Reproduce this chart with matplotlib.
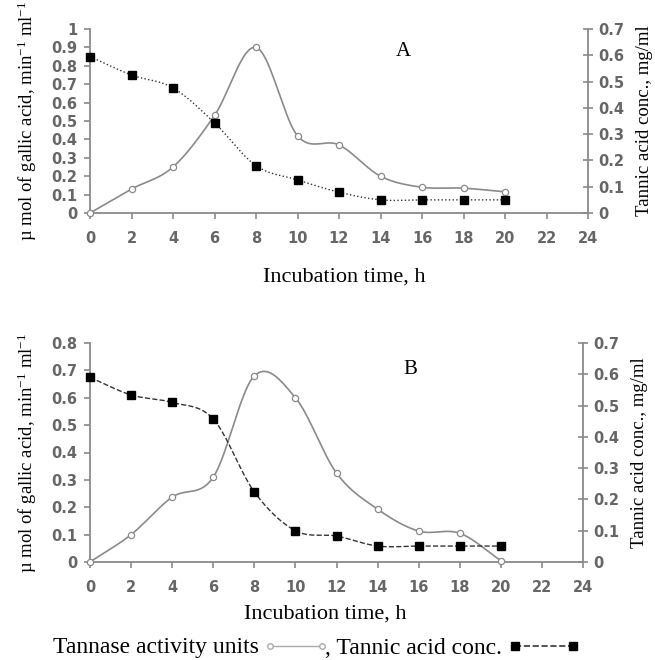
import numpy as np
import matplotlib
matplotlib.use("Agg")
import matplotlib.pyplot as plt
from matplotlib.lines import Line2D

plt.rcParams['mathtext.fontset'] = 'custom'
plt.rcParams['mathtext.rm'] = 'Liberation Serif'
plt.rcParams['mathtext.it'] = 'Liberation Serif:italic'

# incubation time, h
hours = [0, 2, 4, 6, 8, 10, 12, 14, 16, 18, 20]

# panel A
tannase_a = [0.0, 0.13, 0.25, 0.53, 0.90, 0.42, 0.37, 0.20, 0.14, 0.135, 0.115]
tannic_a = [0.595, 0.525, 0.476, 0.343, 0.18, 0.126, 0.079, 0.05, 0.05, 0.05, 0.05]

# panel B
tannase_b = [0.0, 0.10, 0.237, 0.31, 0.68, 0.60, 0.325, 0.193, 0.113, 0.105, 0.005]
tannic_b = [0.59, 0.534, 0.51, 0.457, 0.224, 0.10, 0.083, 0.051, 0.051, 0.051, 0.051]

x_ticks = list(range(0, 25, 2))
left_ticks_a = [0, 0.1, 0.2, 0.3, 0.4, 0.5, 0.6, 0.7, 0.8, 0.9, 1]
left_ticks_b = [0, 0.1, 0.2, 0.3, 0.4, 0.5, 0.6, 0.7, 0.8]
right_ticks = [0, 0.1, 0.2, 0.3, 0.4, 0.5, 0.6, 0.7]

GRAY = '#8a8a8a'
TICK_C = '#666666'
SERIF = 'Liberation Serif'
W, H = 655, 660


def smooth(x, y, n=20):
    # catmull-rom path through the points, like a spreadsheet "smoothed line"
    x = np.asarray(x, float)
    y = np.asarray(y, float)
    px = np.concatenate([[2 * x[0] - x[1]], x, [2 * x[-1] - x[-2]]])
    py = np.concatenate([[2 * y[0] - y[1]], y, [2 * y[-1] - y[-2]]])
    xs, ys = [], []
    t = np.linspace(0, 1, n, endpoint=False)
    for i in range(1, len(px) - 2):
        for p, out in ((px, xs), (py, ys)):
            p0, p1, p2, p3 = p[i - 1], p[i], p[i + 1], p[i + 2]
            out.extend(0.5 * ((2 * p1) + (-p0 + p2) * t +
                              (2 * p0 - 5 * p1 + 4 * p2 - p3) * t ** 2 +
                              (-p0 + 3 * p1 - 3 * p2 + p3) * t ** 3))
    xs.append(x[-1])
    ys.append(y[-1])
    return xs, ys


def panel(rect, tannase, tannic, left_ticks, left_max, tag, tag_pos, dash,
          xlab_y):
    ax = fig.add_axes(rect)
    ax2 = ax.twinx()
    for a in (ax, ax2):
        for s in a.spines.values():
            s.set_visible(False)
    ax.spines['left'].set_visible(True)
    ax.spines['bottom'].set_visible(True)
    ax2.spines['right'].set_visible(True)
    for s in (ax.spines['left'], ax.spines['bottom'], ax2.spines['right']):
        s.set_color(GRAY)
        s.set_linewidth(1.3)

    sx, sy = smooth(hours, tannase)
    ax.plot(sx, sy, color=GRAY, lw=1.2, zorder=3)
    ax.plot(hours, tannase, 'o', ms=4.5, mfc='white', mec=GRAY, mew=0.9,
            zorder=4, clip_on=False)

    tx, ty = smooth(hours, tannic)
    ax2.plot(tx, ty, color='#333333', lw=1.0, ls=dash, zorder=3)
    ax2.plot(hours, tannic, 's', ms=5.5, mfc='black', mec='black',
             zorder=4, clip_on=False)

    ax.set_xlim(0, 24)
    ax.set_ylim(0, left_max)
    ax2.set_ylim(0, 0.7)
    ax.set_xticks(x_ticks)
    ax.set_yticks(left_ticks)
    ax.set_yticklabels(['%g' % v for v in left_ticks])
    ax2.set_yticks(right_ticks)
    ax2.set_yticklabels(['%g' % v for v in right_ticks])
    ax.tick_params(axis='both', direction='out', length=4, width=1.2,
                   color=GRAY, labelcolor=TICK_C, labelsize=10.5, pad=5)
    ax.tick_params(axis='x', pad=9)
    ax2.tick_params(axis='y', direction='inout', length=7, width=1.2,
                    color=GRAY, labelcolor=TICK_C, labelsize=10.5, pad=4)
    for lab in ax.get_xticklabels() + ax.get_yticklabels() + ax2.get_yticklabels():
        lab.set_fontweight('bold')

    fig.text(xlab_y[0] / W, 1 - xlab_y[1] / H, 'Incubation time, h',
             family=SERIF, fontsize=16, ha='center', va='center')
    ax.set_ylabel(r'µ mol of gallic acid, min$^{\mathrm{-1}}$ ml$^{\mathrm{-1}}$',
                  family=SERIF, fontsize=13.5, labelpad=9)
    ax2.set_ylabel('Tannic acid conc., mg/ml', family=SERIF, fontsize=13.5,
                   labelpad=8)
    ax.text(tag_pos[0], tag_pos[1], tag, transform=ax.transAxes,
            family=SERIF, fontsize=15, ha='center', va='center')
    return ax


fig = plt.figure(figsize=(W / 100, H / 100), dpi=100)

panel([90 / W, 1 - 213 / H, 498 / W, 184 / H], tannase_a, tannic_a,
      left_ticks_a, 1.0, 'A', (0.63, 0.88), ':', (344, 277))
panel([90 / W, 1 - 562 / H, 493 / W, 219 / H], tannase_b, tannic_b,
      left_ticks_b, 0.8, 'B', (0.65, 0.88), '--', (325, 614))

# legend line under the charts
ly = 1 - 648 / H
gy = ly + 0.003
fig.text(53 / W, ly, 'Tannase activity units', family=SERIF, fontsize=17,
         ha='left', va='center')
fig.add_artist(Line2D([270 / W, 322 / W], [gy, gy],
                      color='#aaaaaa', lw=1.0, marker='o', ms=4, mfc='white',
                      mec='#aaaaaa', transform=fig.transFigure))
fig.text(325 / W, ly, ', Tannic acid conc.', family=SERIF, fontsize=17,
         ha='left', va='center')
fig.add_artist(Line2D([515 / W, 573 / W], [gy, gy],
                      color='#333333', lw=1.2, ls='--', marker='s', ms=5.5,
                      mfc='black', mec='black', transform=fig.transFigure))

fig.savefig('out.png', dpi=100)
